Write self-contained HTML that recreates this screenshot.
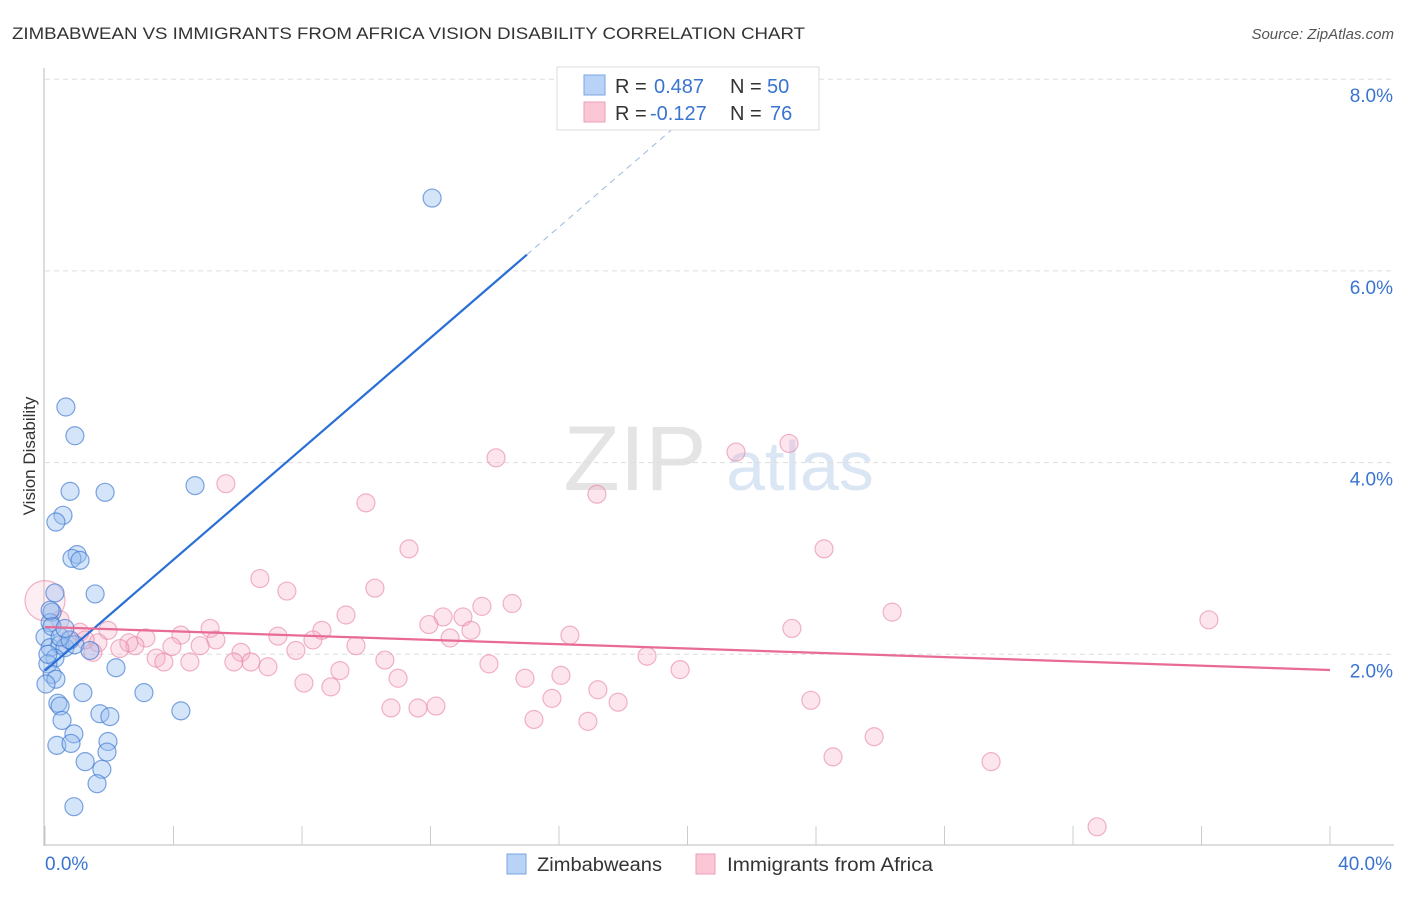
<!DOCTYPE html>
<html><head><meta charset="utf-8"><style>
body{margin:0;background:#fff;font-family:"Liberation Sans",sans-serif}
svg text{font-family:"Liberation Sans",sans-serif}
</style></head><body>
<svg id="chart" width="1406" height="892" viewBox="0 0 1406 892" xmlns="http://www.w3.org/2000/svg">
<text x="12" y="39" font-size="17" fill="#333" textLength="793" lengthAdjust="spacingAndGlyphs">ZIMBABWEAN VS IMMIGRANTS FROM AFRICA VISION DISABILITY CORRELATION CHART</text>
<text x="1394" y="39" font-size="15" fill="#555" font-style="italic" text-anchor="end">Source: ZipAtlas.com</text>
<text x="35" y="456" font-size="17" fill="#333" text-anchor="middle" transform="rotate(-90 35 456)">Vision Disability</text>
<g><text x="635" y="490" font-size="92" fill="#e4e4e4" font-family="Liberation Serif" text-anchor="middle">ZIP</text><text x="800" y="490" font-size="70" fill="#dbe6f5" text-anchor="middle">atlas</text></g>
<g id="grid"></g>
<g id="axes"></g>
<g id="pts"></g>
<g id="lines"></g>
<g>
<rect x="557" y="67" width="262" height="63" fill="#fff" stroke="#ddd"/>
<rect x="584" y="75" width="21" height="20" fill="#b8d3f5" stroke="#7aa6e0"/>
<rect x="584" y="102" width="21" height="20" fill="#fbc7d6" stroke="#eba0b6"/>
<text x="615" y="93" font-size="20" fill="#333">R = </text><text x="654" y="93" font-size="20" fill="#3a74d0">0.487</text>
<text x="730" y="93" font-size="20" fill="#333">N = </text><text x="767" y="93" font-size="20" fill="#3a74d0">50</text>
<text x="615" y="120" font-size="20" fill="#333">R = </text><text x="650" y="120" font-size="20" fill="#3a74d0">-0.127</text>
<text x="730" y="120" font-size="20" fill="#333">N = </text><text x="770" y="120" font-size="20" fill="#3a74d0">76</text>
</g>
<g>
<rect x="507" y="854" width="19" height="20" fill="#b8d3f5" stroke="#7aa6e0"/>
<text x="537" y="871" font-size="19" fill="#333" textLength="125" lengthAdjust="spacingAndGlyphs">Zimbabweans</text>
<rect x="696" y="854" width="19" height="20" fill="#fbc7d6" stroke="#eba0b6"/>
<text x="727" y="871" font-size="19" fill="#333" textLength="206" lengthAdjust="spacingAndGlyphs">Immigrants from Africa</text>
</g>
</svg>
<script>
const xTicks=[0,40];
const yTicks=[2,4,6,8];
const zimX=[12.05,0.65,0.93,0.78,1.87,4.67,0.56,0.34,1.0,0.84,1.09,1.56,0.31,0.22,0.16,0.0,0.16,0.47,0.62,0.93,0.31,0.09,0.22,0.34,2.21,1.18,3.08,0.40,0.47,4.23,1.71,2.02,0.53,0.90,0.37,0.81,1.96,1.93,1.25,1.77,1.62,0.90,0.09,0.03,0.22,0.47,0.78,0.16,0.62,1.40];
const zimY=[6.76,4.58,4.28,3.70,3.69,3.76,3.45,3.38,3.04,3.0,2.98,2.63,2.64,2.44,2.33,2.18,2.07,2.10,2.07,2.10,1.96,1.90,1.79,1.74,1.86,1.60,1.60,1.49,1.46,1.41,1.38,1.35,1.31,1.17,1.05,1.07,1.09,0.98,0.88,0.80,0.65,0.41,2.0,1.69,2.29,2.18,2.15,2.46,2.27,2.04];
const afrX=[0.0,5.63,14.04,21.51,23.16,9.99,17.18,11.33,24.25,6.69,7.53,10.27,14.54,13.60,26.37,9.37,12.39,13.01,11.95,36.23,5.14,8.62,13.26,23.25,1.96,1.09,4.23,3.14,7.25,8.34,5.32,1.65,2.61,0.72,2.80,1.49,3.95,6.10,9.68,12.61,16.34,7.81,3.46,3.70,4.51,5.88,6.41,6.94,10.58,13.82,9.18,10.99,14.94,16.06,18.74,19.77,8.06,8.90,17.21,15.78,17.84,23.84,10.77,11.61,12.17,15.22,16.90,25.81,24.53,29.45,32.75,0.47,1.25,2.33,4.83];
const afrY=[2.56,3.78,4.05,4.11,4.20,3.58,3.67,3.10,3.10,2.79,2.66,2.69,2.53,2.50,2.44,2.41,2.39,2.39,2.31,2.36,2.27,2.25,2.25,2.27,2.25,2.23,2.20,2.17,2.19,2.15,2.15,2.12,2.12,2.15,2.09,2.02,2.08,2.02,2.09,2.17,2.20,2.04,1.96,1.92,1.92,1.92,1.92,1.87,1.94,1.90,1.83,1.75,1.75,1.78,1.98,1.84,1.70,1.66,1.63,1.54,1.50,1.52,1.44,1.44,1.46,1.32,1.30,1.14,0.93,0.88,0.20,2.36,2.15,2.06,2.09];
const W=1406,X0=45,X1=1330,Y0=846,PX=(X1-X0)/40,PY=95.85;
const sx=v=>X0+v*PX, sy=v=>Y0-v*PY;
const NS='http://www.w3.org/2000/svg';
function mk(tag,attrs,parent){const e=document.createElementNS(NS,tag);for(const k in attrs)e.setAttribute(k,attrs[k]);parent.appendChild(e);return e;}
const grid=document.getElementById('grid'),axes=document.getElementById('axes');
yTicks.forEach(t=>{
 const l=mk('line',{x1:45,x2:1394,y1:sy(t),y2:sy(t),stroke:'#ddd','stroke-dasharray':'5,4'},grid);
 
 
 const tx=mk('text',{x:1393,y:sy(t)+23,'font-size':19,fill:'#3a74d0','text-anchor':'end'},axes);
 tx.textContent=t.toFixed(1)+'%';
 
 
});
mk('line',{x1:44,x2:44,y1:68,y2:846,stroke:'#bbb'},axes);
mk('line',{x1:44,x2:1394,y1:845,y2:845,stroke:'#bbb'},axes);
for(let i=0;i<=10;i++){const x=sx(i*4);mk('line',{x1:x,x2:x,y1:826,y2:845,stroke:'#ccc'},axes);}
xTicks.forEach(t=>{
 const tx=mk('text',{x:sx(t)+(t===0?0:62),y:870,'font-size':19,fill:'#3a74d0','text-anchor':t===0?'start':'end'},axes);
 tx.textContent=t.toFixed(1)+'%';
 
 
});
const pts=document.getElementById('pts');
afrX.forEach((v,i)=>{
 const c=mk('circle',{cx:sx(v),cy:sy(afrY[i]),r:i===0?20:9,fill:i===0?'rgba(246,170,195,0.2)':'rgba(246,170,195,0.3)',stroke:'rgba(232,130,165,0.6)','stroke-width':1.2},pts);
 
 
});
zimX.forEach((v,i)=>{
 const c=mk('circle',{cx:sx(v),cy:sy(zimY[i]),r:9,fill:'rgba(150,190,240,0.4)',stroke:'rgba(58,116,208,0.65)','stroke-width':1.2},pts);
 
 
});
function fit(xs,ys){const n=xs.length;let mx=0,my=0;for(let i=0;i<n;i++){mx+=xs[i];my+=ys[i];}mx/=n;my/=n;let sxy=0,sxx=0;for(let i=0;i<n;i++){sxy+=(xs[i]-mx)*(ys[i]-my);sxx+=(xs[i]-mx)**2;}const b=sxy/sxx;return [my-b*mx,b];}
const lines=document.getElementById('lines');
const [za,zb]=fit(zimX,zimY);
let l=mk('line',{x1:sx(0),y1:sy(za),x2:sx(15),y2:sy(za+zb*15),stroke:'#2a6fd6','stroke-width':2.2},lines);


const xd=Math.min((7.55-za)/zb,40);
l=mk('line',{x1:sx(15),y1:sy(za+zb*15),x2:sx(xd),y2:sy(za+zb*xd),stroke:'#9bb8e0','stroke-width':1,'stroke-dasharray':'6,5'},lines);


const [aa,ab]=fit(afrX,afrY);
l=mk('line',{x1:sx(0),y1:sy(aa),x2:sx(40),y2:sy(aa+ab*40),stroke:'#e86a96','stroke-width':2.2},lines);


</script>
</body></html>
